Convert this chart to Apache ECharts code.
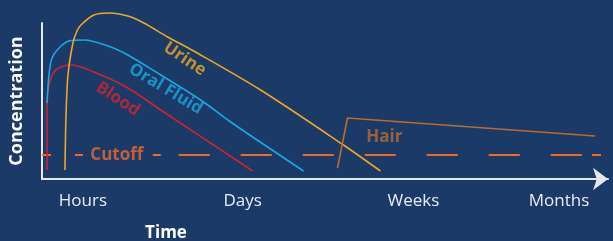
<!DOCTYPE html>
<html>
<head>
<meta charset="utf-8">
<script src="https://cdn.jsdelivr.net/npm/echarts@6/dist/echarts.min.js"></script>
<style>
  html, body { margin: 0; padding: 0; background: #1b3a68; }
  #chart { width: 613px; height: 241px; }
</style>
</head>
<body>
<div id="chart"></div>
<script>
// time axis ticks (arbitrary time units along the axis)
var tickValues = [41, 201, 372, 518];
var tickNames = ['Hours', 'Days', 'Weeks', 'Months'];

// detection window curves: [time, concentration]
var blood = [[5, 9], [5, 76], [7, 94], [12, 107], [19, 112], [29, 114], [52, 107], [86, 91], [119, 69], [211, 8]];
var oralFluid = [[5, 76], [7, 104], [10, 121], [17, 131], [27, 138], [42, 139], [69, 132], [86, 124], [119, 104], [159, 79], [189, 57], [262, 8]];
var urine = [[23, 9], [24, 61], [26, 104], [31, 136], [35, 148], [39, 154], [52, 164], [67, 166], [86, 163], [102, 156], [126, 142], [152, 128], [219, 89], [302, 34], [339, 8]];
var hair = [[296, 11], [306, 61], [554, 43]];

// cutoff level
var cutoff = 24;
var cutoffDashed = [[137, cutoff], [541, cutoff]];
var cutoffBits = [[0, cutoff], [9, cutoff], '-', [33, cutoff], [41, cutoff], '-', [111, cutoff], [119, cutoff], '-', [551, cutoff], [560, cutoff]];

// curve names: [time, concentration, text, rotation]
var curveLabels = [
  [143, 120, 'Urine', -34],
  [124, 90, 'Oral Fluid', -31],
  [76, 80, 'Blood', -33],
  [343, 42, 'Hair', 0],
  [75, 24, 'Cutoff', 0]
];

var colors = {
  Urine: '#eaa823',
  'Oral Fluid': '#1ba8e0',
  Blood: '#cf2233',
  Hair: '#b96c2e',
  Cutoff: '#ec692c'
};

var chart = echarts.init(document.getElementById('chart'));

function curve(name, data) {
  return {
    name: name,
    type: 'line',
    data: data,
    smooth: 0.3,
    clip: false,
    symbol: 'none',
    lineStyle: { color: colors[name], width: 1.6 },
    z: 3
  };
}

chart.setOption({
  backgroundColor: '#1b3a68',
  animation: false,
  textStyle: { fontFamily: '"Open Sans", sans-serif' },
  grid: { left: 41, right: 5, top: 23, bottom: 62 },
  xAxis: {
    type: 'value',
    min: 0,
    max: 567,
    splitLine: { show: false },
    axisTick: { show: false },
    axisLine: {
      lineStyle: { color: '#e4e8ee', width: 2 },
      symbol: ['none', 'arrow'],
      symbolSize: [17, 15]
    },
    axisLabel: {
      customValues: tickValues,
      color: '#e8ecf2',
      fontSize: 17,
      margin: 14,
      formatter: function (v) {
        var i = tickValues.indexOf(v);
        return i >= 0 ? tickNames[i] : '';
      }
    }
  },
  yAxis: {
    type: 'value',
    min: 0,
    max: 156,
    name: 'Concentration',
    nameLocation: 'middle',
    nameGap: 16,
    nameRotate: 90,
    nameTextStyle: { color: '#ffffff', fontSize: 18, fontWeight: 'bold' },
    splitLine: { show: false },
    axisTick: { show: false },
    axisLabel: { show: false },
    axisLine: { lineStyle: { color: '#e4e8ee', width: 2 } }
  },
  graphic: [{
    type: 'text',
    x: 166,
    y: 233,
    style: {
      text: 'Time',
      align: 'center',
      verticalAlign: 'middle',
      fill: '#ffffff',
      font: 'bold 17px "Open Sans", sans-serif'
    }
  }],
  series: [
    {
      name: 'cutoffDashed',
      type: 'line',
      data: cutoffDashed,
      symbol: 'none',
      lineStyle: { color: colors.Cutoff, width: 2, type: [31, 31] },
      z: 2
    },
    {
      name: 'cutoffBits',
      type: 'line',
      data: cutoffBits,
      symbol: 'none',
      connectNulls: false,
      lineStyle: { color: colors.Cutoff, width: 2 },
      z: 2
    },
    curve('Blood', blood),
    curve('Oral Fluid', oralFluid),
    curve('Urine', urine),
    {
      name: 'Hair',
      type: 'line',
      data: hair,
      symbol: 'none',
      lineStyle: { color: colors.Hair, width: 1.6 },
      z: 3
    },
    {
      name: 'labels',
      type: 'scatter',
      symbolSize: 0,
      z: 5,
      data: curveLabels.map(function (d) {
        return {
          value: [d[0], d[1]],
          label: {
            show: true,
            position: 'inside',
            formatter: d[2],
            rotate: d[3],
            color: colors[d[2]],
            fontSize: 17,
            fontWeight: 'bold'
          }
        };
      })
    }
  ]
});
</script>
</body>
</html>
